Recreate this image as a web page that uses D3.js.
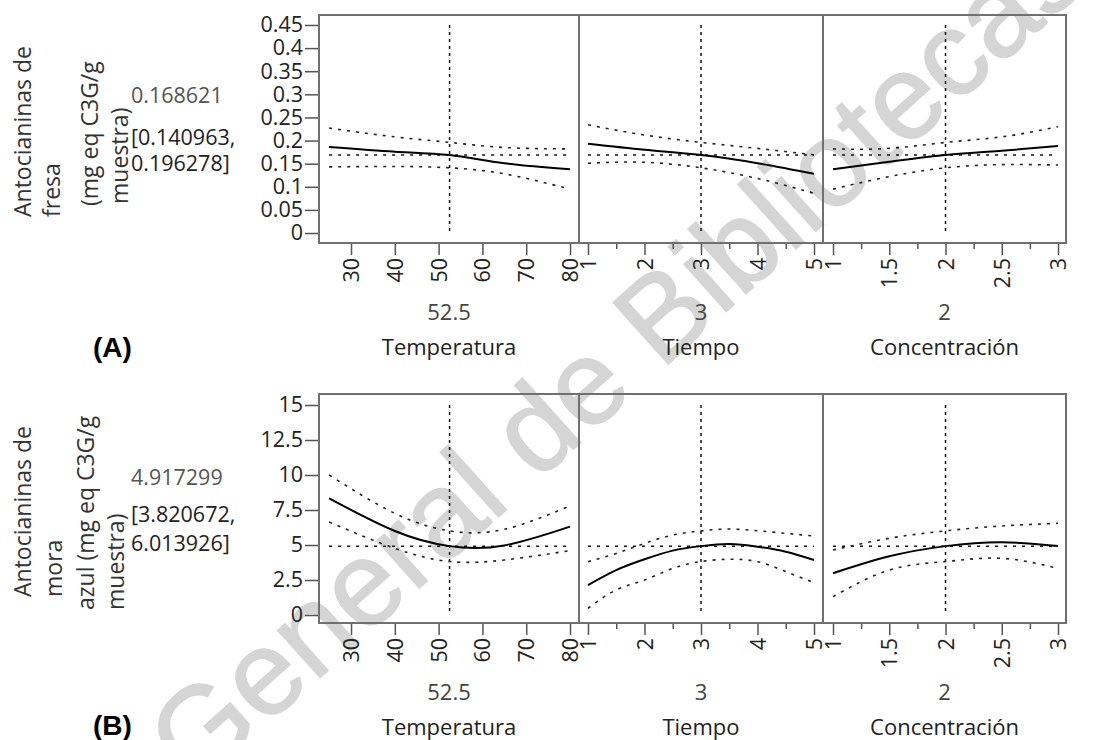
<!DOCTYPE html>
<html>
<head>
<meta charset="utf-8">
<script src="https://cdn.jsdelivr.net/npm/d3@7"></script>
<style>
  body { margin: 0; background: #fff; }
  text { font-family: "Open Sans", sans-serif; }
</style>
</head>
<body>
<svg id="chart" width="1107" height="740"></svg>
<script>
// factors (shared x axes)
const factorNames = ["Temperatura", "Tiempo", "Concentración"];
const factorCurrent = [52.5, 3, 2];
const factorCurrentLabels = ["52.5", "3", "2"];
const tempTicks = [30, 40, 50, 60, 70, 80];
const tempMinor = [];
const timeTicks = [1, 2, 3, 4, 5];
const timeMinor = [1.5, 2.5, 3.5, 4.5];
const concTicks = [1, 1.5, 2, 2.5, 3];
const concMinor = [1.25, 1.75, 2.25, 2.75];

// (A) antocianinas de fresa
const fresaLabel = ["Antocianinas de", "fresa", "(mg eq C3G/g", "muestra)"];
const fresaTicks = [0, 0.05, 0.1, 0.15, 0.2, 0.25, 0.3, 0.35, 0.4, 0.45];
const fresaPred = 0.168621;
const fresaText = ["0.168621", "[0.140963,", "0.196278]"];
const fresaTempX = [25, 40, 52.5, 65, 80];
const fresaTempFit = [0.186, 0.176, 0.1686, 0.151, 0.138];
const fresaTempLow = [0.143, 0.144, 0.141, 0.128, 0.095];
const fresaTempHigh = [0.227, 0.208, 0.196, 0.185, 0.182];
const fresaTimeX = [1, 2, 3, 4, 5];
const fresaTimeFit = [0.193, 0.180, 0.1686, 0.151, 0.128];
const fresaTimeLow = [0.151, 0.153, 0.141, 0.118, 0.086];
const fresaTimeHigh = [0.234, 0.212, 0.196, 0.183, 0.169];
const fresaConcX = [1, 1.5, 2, 2.5, 3];
const fresaConcFit = [0.138, 0.154, 0.1686, 0.178, 0.188];
const fresaConcLow = [0.095, 0.122, 0.141, 0.148, 0.147];
const fresaConcHigh = [0.182, 0.183, 0.196, 0.208, 0.230];

// (B) antocianinas de mora azul
const moraLabel = ["Antocianinas de", "mora", "azul (mg eq C3G/g", "muestra)"];
const moraTicks = [0, 2.5, 5, 7.5, 10, 12.5, 15];
const moraPred = 4.917299;
const moraText = ["4.917299", "[3.820672,", "6.013926]"];
const moraTempX = [25, 40, 52.5, 65, 80];
const moraTempFit = [8.33, 6.0, 4.92, 4.97, 6.31];
const moraTempLow = [6.64, 4.76, 3.82, 3.93, 4.6];
const moraTempHigh = [10.0, 7.26, 6.01, 6.12, 7.8];
const moraTimeX = [1, 1.5, 2, 2.5, 3, 3.5, 4, 4.5, 5];
const moraTimeFit = [2.14, 3.21, 3.98, 4.6, 4.92, 5.07, 4.88, 4.52, 3.93];
const moraTimeLow = [0.48, 1.79, 2.5, 3.33, 3.82, 3.98, 3.81, 3.1, 2.31];
const moraTimeHigh = [3.81, 4.4, 5.12, 5.71, 6.01, 6.14, 6.02, 5.83, 5.64];
const moraConcX = [1, 1.5, 2, 2.5, 3];
const moraConcFit = [2.98, 4.19, 4.92, 5.2, 4.93];
const moraConcLow = [1.31, 3.21, 3.82, 4.05, 3.33];
const moraConcHigh = [4.64, 5.48, 6.01, 6.36, 6.55];

const svg = d3.select("#chart");

// watermark, behind everything
svg.append("text")
  .attr("transform", "translate(195,790) rotate(-42)")
  .style("font-family", "'Liberation Sans', Arial, sans-serif")
  .attr("font-size", 120)
  .attr("fill", "#d5d5d5")
  .attr("stroke", "#d5d5d5")
  .attr("stroke-width", 1.5)
  .text("General de Bibliotecas");

const edges = [319, 579, 823, 1066];
const xDomains = [[22.69, 82.05], [0.841, 5.159], [0.911, 3.071]];
const majors = [tempTicks, timeTicks, concTicks];
const minors = [tempMinor, timeMinor, concMinor];

const rows = [
  {
    top: 15, bottom: 243, yDomain: [-0.0216, 0.4716], ticks: fresaTicks,
    fmt: d => String(+d.toFixed(2)), label: fresaLabel, pred: fresaPred, text: fresaText,
    labelStart: [217, 217, 206, 204], labelX: [23, 52, 90, 120], textY: [95, 137, 163],
    tag: "(A)", tagY: 347,
    curves: [
      {x: fresaTempX, fit: fresaTempFit, low: fresaTempLow, high: fresaTempHigh},
      {x: fresaTimeX, fit: fresaTimeFit, low: fresaTimeLow, high: fresaTimeHigh},
      {x: fresaConcX, fit: fresaConcFit, low: fresaConcLow, high: fresaConcHigh}
    ]
  },
  {
    top: 394, bottom: 623, yDomain: [-0.571, 15.786], ticks: moraTicks,
    fmt: d => String(d), label: moraLabel, pred: moraPred, text: moraText,
    labelStart: [597, 597, 610, 610], labelX: [23, 54, 86, 116], textY: [477, 514, 543],
    tag: "(B)", tagY: 725,
    curves: [
      {x: moraTempX, fit: moraTempFit, low: moraTempLow, high: moraTempHigh},
      {x: moraTimeX, fit: moraTimeFit, low: moraTimeLow, high: moraTimeHigh},
      {x: moraConcX, fit: moraConcFit, low: moraConcLow, high: moraConcHigh}
    ]
  }
];

rows.forEach(row => {
  const g = svg.append("g");
  const y = d3.scaleLinear().domain(row.yDomain).range([row.bottom, row.top]);

  // y axis
  const yAxis = g.append("g")
    .attr("transform", `translate(${edges[0]},0)`)
    .call(d3.axisLeft(y).tickValues(row.ticks).tickFormat(row.fmt).tickSize(14).tickPadding(2).tickSizeOuter(0));
  yAxis.select(".domain").remove();
  yAxis.selectAll("line").attr("stroke", "#555").attr("stroke-width", 1.5);
  yAxis.selectAll("text").attr("font-family", null).style("font-size", "21.5px").attr("fill", "#222");

  // response label (wrapped, rotated)
  row.label.forEach((t, i) => {
    g.append("text")
      .attr("transform", `translate(${row.labelX[i]},${row.labelStart[i]}) rotate(-90)`)
      .attr("dy", "0.35em")
      .style("font-size", "23px")
      .attr("fill", "#333")
      .text(t);
  });
  row.text.forEach((t, i) => {
    g.append("text")
      .attr("x", 131).attr("y", row.textY[i]).attr("dy", "0.35em")
      .style("font-size", "21.5px")
      .attr("fill", i === 0 ? "#555" : "#222")
      .text(t);
  });

  g.append("text")
    .attr("x", 93).attr("y", row.tagY).attr("dy", "0.35em")
    .style("font-family", "'Liberation Sans', Arial, sans-serif")
    .style("font-size", "28px").style("font-weight", "bold")
    .attr("fill", "#000")
    .text(row.tag);

  const topVal = d3.max(row.ticks);

  row.curves.forEach((c, k) => {
    const x = d3.scaleLinear().domain(xDomains[k]).range([edges[k], edges[k + 1]]);

    // x axis majors, labels turned to read upward
    const xa = g.append("g")
      .attr("transform", `translate(0,${row.bottom})`)
      .call(d3.axisBottom(x).tickValues(majors[k]).tickSize(12).tickSizeOuter(0).tickFormat(d => String(d)));
    xa.select(".domain").remove();
    xa.selectAll("line").attr("stroke", "#555").attr("stroke-width", 1.5);
    xa.selectAll("text")
      .attr("font-family", null)
      .style("font-size", "21.5px")
      .attr("fill", "#222")
      .attr("transform", "rotate(-90)")
      .attr("text-anchor", "end")
      .attr("x", -15).attr("y", 0).attr("dy", "0.35em");

    if (minors[k].length) {
      const xm = g.append("g")
        .attr("transform", `translate(0,${row.bottom})`)
        .call(d3.axisBottom(x).tickValues(minors[k]).tickSize(6).tickSizeOuter(0).tickFormat(""));
      xm.select(".domain").remove();
      xm.selectAll("line").attr("stroke", "#555").attr("stroke-width", 1.5);
    }

    const mid = (edges[k] + edges[k + 1]) / 2;
    g.append("text")
      .attr("x", mid).attr("y", row.bottom + 69).attr("dy", "0.35em")
      .attr("text-anchor", "middle").style("font-size", "22px").attr("fill", "#444")
      .text(factorCurrentLabels[k]);
    g.append("text")
      .attr("x", mid).attr("y", row.bottom + 104).attr("dy", "0.35em")
      .attr("text-anchor", "middle").style("font-size", "22px").attr("fill", "#222")
      .text(factorNames[k]);

    // current prediction / current setting
    g.append("line")
      .attr("x1", x(c.x[0])).attr("x2", x(c.x[c.x.length - 1]))
      .attr("y1", y(row.pred)).attr("y2", y(row.pred))
      .attr("stroke", "#111").attr("stroke-width", 1.5).attr("stroke-dasharray", "3,6");
    g.append("line")
      .attr("x1", x(factorCurrent[k])).attr("x2", x(factorCurrent[k]))
      .attr("y1", y(topVal)).attr("y2", y(0))
      .attr("stroke", "#111").attr("stroke-width", 1.5).attr("stroke-dasharray", "3,4");

    const pts = key => c.x.map((v, i) => [v, c[key][i]]);
    const line = d3.line().x(d => x(d[0])).y(d => y(d[1])).curve(d3.curveNatural);

    ["low", "high"].forEach(key => {
      g.append("path")
        .datum(pts(key))
        .attr("d", line)
        .attr("fill", "none")
        .attr("stroke", "#222")
        .attr("stroke-width", 1.6)
        .attr("stroke-dasharray", "3,6");
    });
    g.append("path")
      .datum(pts("fit"))
      .attr("d", line)
      .attr("fill", "none")
      .attr("stroke", "#000")
      .attr("stroke-width", 2);
  });

  // frame
  g.append("rect")
    .attr("x", edges[0]).attr("y", row.top)
    .attr("width", edges[3] - edges[0]).attr("height", row.bottom - row.top)
    .attr("fill", "none").attr("stroke", "#707070").attr("stroke-width", 2);
  [edges[1], edges[2]].forEach(e => {
    g.append("line")
      .attr("x1", e).attr("x2", e).attr("y1", row.top).attr("y2", row.bottom)
      .attr("stroke", "#707070").attr("stroke-width", 2);
  });
});
</script>
</body>
</html>
